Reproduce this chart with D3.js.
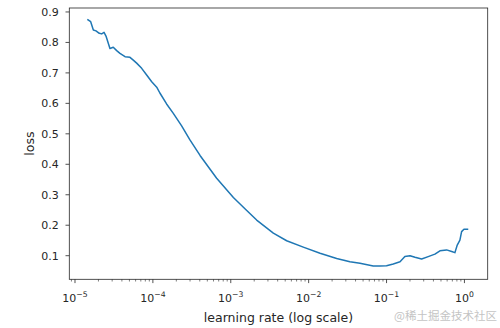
<!DOCTYPE html>
<html><head><meta charset="utf-8">
<script src="https://cdn.jsdelivr.net/npm/d3@7"></script>
<style>body{margin:0;background:#fff}svg{display:block}text{font-family:"DejaVu Sans",sans-serif}</style>
</head><body><svg id="c" width="500" height="328"></svg>
<script>
const learningRates = [1.44e-5,1.59e-5,1.72e-5,1.86e-5,2.05e-5,2.20e-5,2.36e-5,2.50e-5,2.81e-5,3.10e-5,3.43e-5,3.78e-5,4.39e-5,5.08e-5,5.60e-5,6.19e-5,7.18e-5,8.32e-5,9.66e-5,1.12e-4,1.23e-4,1.50e-4,1.83e-4,2.34e-4,2.99e-4,4.03e-4,6.59e-4,1.08e-3,1.52e-3,2.15e-3,3.52e-3,5.22e-3,8.53e-3,1.40e-2,2.29e-2,3.39e-2,4.56e-2,6.75e-2,8.22e-2,0.100,0.122,0.149,0.172,0.200,0.232,0.282,0.343,0.418,0.485,0.590,0.686,0.755,0.809,0.875,0.920,0.986,1.12];
const losses = [0.876,0.868,0.841,0.838,0.830,0.828,0.833,0.821,0.780,0.784,0.773,0.764,0.753,0.751,0.742,0.732,0.715,0.693,0.671,0.653,0.634,0.598,0.567,0.526,0.480,0.429,0.354,0.291,0.254,0.217,0.174,0.149,0.128,0.108,0.091,0.080,0.075,0.066,0.066,0.067,0.073,0.080,0.097,0.100,0.095,0.089,0.097,0.105,0.116,0.119,0.114,0.110,0.135,0.151,0.179,0.187,0.187];
const yTicks = [0.1,0.2,0.3,0.4,0.5,0.6,0.7,0.8,0.9];
const xTickExps = [-5,-4,-3,-2,-1,0];
const xDomain = [8.45e-6, 1.99];
const yDomain = [0.0225, 0.913];

const svg = d3.select("#c");
const L = 69.3, T = 8, R = 487.7, B = 279.3;
const x = d3.scaleLog().domain(xDomain).range([L, R]);
const y = d3.scaleLinear().domain(yDomain).range([B, T]);
const ink = "#262626";

// minor ticks
const minor = [];
for (let e = -6; e <= 0; e++) for (let m = 2; m <= 9; m++) {
  const v = m * Math.pow(10, e);
  if (v >= xDomain[0] && v <= xDomain[1]) minor.push(v);
}
svg.append("g").selectAll("line").data(minor).join("line")
  .attr("x1", d => x(d)).attr("x2", d => x(d)).attr("y1", B).attr("y2", B + 2.2)
  .attr("stroke", ink).attr("stroke-width", 0.6);

// x major ticks
const gx = svg.append("g");
xTickExps.forEach(e => {
  const px = x(Math.pow(10, e));
  gx.append("line").attr("x1", px).attr("x2", px).attr("y1", B).attr("y2", B + 3.8)
    .attr("stroke", ink).attr("stroke-width", 0.8);
  const t = gx.append("text").attr("x", px).attr("y", B + 22.3).attr("text-anchor", "middle")
    .attr("fill", ink).attr("font-size", 11);
  t.append("tspan").text("10");
  t.append("tspan").attr("dy", -5).attr("font-size", 7.7).text(e < 0 ? "\u2212" + (-e) : String(e));
});

// y ticks
const gy = svg.append("g");
yTicks.forEach(v => {
  const py = y(v);
  gy.append("line").attr("x1", L - 3.8).attr("x2", L).attr("y1", py).attr("y2", py)
    .attr("stroke", ink).attr("stroke-width", 0.8);
  gy.append("text").attr("x", L - 10.5).attr("y", py + 4).attr("text-anchor", "end")
    .attr("fill", ink).attr("font-size", 11).text(v.toFixed(1));
});

// line
const pts = learningRates.map((d, i) => [d, losses[i]]);
svg.append("path").datum(pts)
  .attr("d", d3.line().x(d => x(d[0])).y(d => y(d[1])))
  .attr("fill", "none").attr("stroke", "#1f77b4").attr("stroke-width", 1.5)
  .attr("stroke-linejoin", "round");

// frame
svg.append("rect").attr("x", L).attr("y", T).attr("width", R - L).attr("height", B - T)
  .attr("fill", "none").attr("stroke", ink).attr("stroke-width", 0.8);

// labels
svg.append("text").attr("x", (L + R) / 2).attr("y", 321.5).attr("text-anchor", "middle")
  .attr("fill", ink).attr("font-size", 12.5).text("learning rate (log scale)");
svg.append("text").attr("transform", `translate(33.5,${(T + B) / 2}) rotate(-90)`)
  .attr("text-anchor", "middle").attr("fill", ink).attr("font-size", 12.5).text("loss");

// watermark
svg.append("text").attr("x", 497).attr("y", 320).attr("text-anchor", "end")
  .attr("fill", "#c4c4c4").attr("font-size", 11.5)
  .style("font-family", '"Noto Sans CJK SC", sans-serif').text("@稀土掘金技术社区");
</script></body></html>
